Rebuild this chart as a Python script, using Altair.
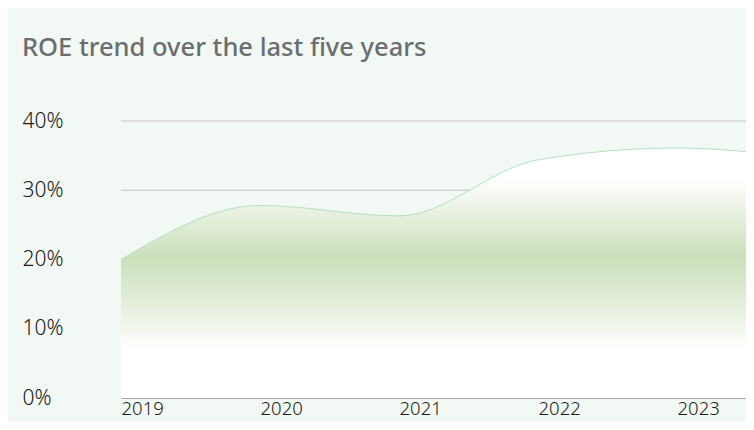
import altair as alt
import pandas as pd

# ---- data ----
years = [2019, 2020, 2021, 2022, 2023, 2024]
roe = [20.0, 27.8, 26.3, 34.4, 36.1, 34.4]
tick_years = [2019, 2020, 2021, 2022, 2023]
tick_pcts = [0, 10, 20, 30, 40]
title_text = "ROE trend over the last five years"

W, H = 625, 277
FONT = "Noto Sans"

df = pd.DataFrame({"year": years, "roe": roe})
grid_df = pd.DataFrame({"pct": tick_pcts})

xs = alt.Scale(domain=[2019, 2023.496], nice=False, zero=False)
ys = alt.Scale(domain=[0, 40], nice=False)

x_axis = alt.Axis(
    values=tick_years, format="d", title=None, grid=False, ticks=False, tickSize=0,
    domain=True, domainColor="#a9a9a9", domainWidth=1,
    labelAlign="left", labelBaseline="top", labelPadding=1,
    labelFont=FONT, labelFontSize=18.5, labelFontWeight=300, labelColor="#1a1a1a",
    labelFlush=False, labelOverlap=False, zindex=1,
)
y_axis = alt.Axis(
    values=tick_pcts, labelExpr="datum.value + '%'", title=None, grid=False,
    ticks=False, tickSize=0, domain=False,
    labelAlign="left", labelBaseline="middle", labelPadding=99,
    labelFont=FONT, labelFontSize=21, labelFontWeight=300, labelColor="#1a1a1a",
    labelOverlap=False, zindex=1,
)

grid = alt.Chart(grid_df).mark_rule(color="#c4c4c4", strokeWidth=1).encode(
    y=alt.Y("pct:Q", scale=ys, axis=y_axis)
)

gradient = alt.Gradient(
    gradient="linear",
    stops=[
        alt.GradientStop(color="#ffffff", offset=0),
        alt.GradientStop(color="#ffffff", offset=0.12),
        alt.GradientStop(color="#cbdfba", offset=0.44),
        alt.GradientStop(color="#ffffff", offset=0.81),
        alt.GradientStop(color="#ffffff", offset=1),
    ],
    x1=0, x2=0, y1=0, y2=1,
)

area = alt.Chart(df).mark_area(interpolate="monotone", clip=True, color=gradient).encode(
    x=alt.X("year:Q", scale=xs, axis=x_axis),
    y=alt.Y("roe:Q", scale=ys, axis=y_axis),
)

line = alt.Chart(df).mark_line(
    interpolate="monotone", clip=True, color="#b3e0c2", strokeWidth=1
).encode(
    x=alt.X("year:Q", scale=xs, axis=x_axis),
    y=alt.Y("roe:Q", scale=ys, axis=y_axis),
)

chart = alt.layer(grid, area, line).properties(
    width=W,
    height=H,
    title=alt.TitleParams(
        title_text, anchor="start", font=FONT, fontSize=25.5, fontWeight=500,
        color="#6b6e71", baseline="alphabetic", offset=29,
    ),
    autosize=alt.AutoSizeParams(type="none"),
    padding={"left": 113, "top": 113, "right": 0, "bottom": 24},
).configure(
    background="#f2f8f3"
).configure_view(
    stroke=None
)

chart.save("out.html", embed_options={"renderer": "svg", "actions": False})
